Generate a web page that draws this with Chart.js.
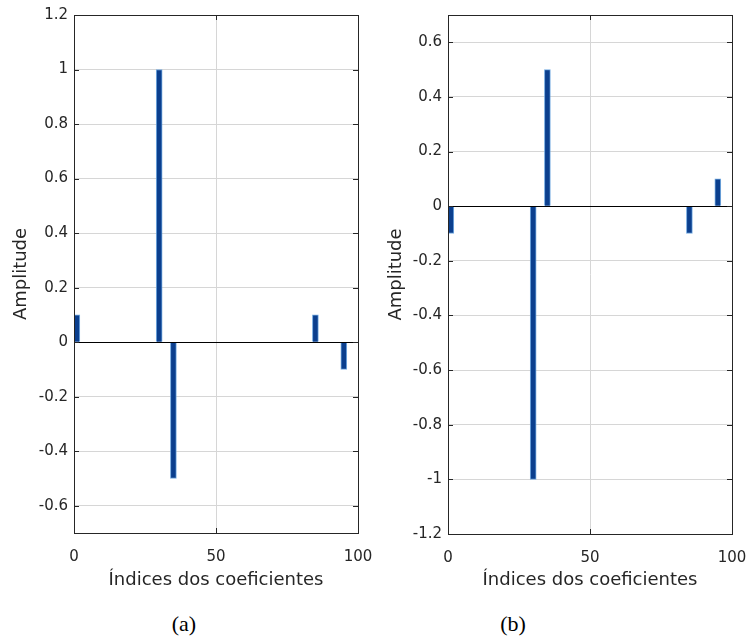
<!DOCTYPE html>
<html>
<head>
<meta charset="utf-8">
<script src="https://cdn.jsdelivr.net/npm/chart.js@4"></script>
<style>
  html, body { margin: 0; padding: 0; background: #fff; }
  body { width: 747px; height: 637px; position: relative; overflow: hidden; }
  canvas { position: absolute; top: 0; }
  .cap { position: absolute; top: 613px; width: 80px; text-align: center;
         font-family: "Liberation Serif", "Times New Roman", serif; font-size: 22px; line-height: 22px; color: #000; }
</style>
</head>
<body>
<canvas id="ca" width="375" height="600" style="left:0px"></canvas>
<canvas id="cb" width="372" height="600" style="left:375px"></canvas>
<div class="cap" style="left:144px">(a)</div>
<div class="cap" style="left:473px">(b)</div>
<script>
// ---- data ----
const indicesA = [1, 30, 35, 85, 95];
const valuesA  = [0.1, 1, -0.5, 0.1, -0.1];
const indicesB = [1, 30, 35, 85, 95];
const valuesB  = [-0.1, -1, 0.5, -0.1, 0.1];

const xTicks      = [0, 50, 100];
const xTickLabels = ['0', '50', '100'];

const yTicksA      = [-0.6, -0.4, -0.2, 0, 0.2, 0.4, 0.6, 0.8, 1, 1.2];
const yTickLabelsA = ['-0.6', '-0.4', '-0.2', '0', '0.2', '0.4', '0.6', '0.8', '1', '1.2'];
const yTicksB      = [-1.2, -1, -0.8, -0.6, -0.4, -0.2, 0, 0.2, 0.4, 0.6];
const yTickLabelsB = ['-1.2', '-1', '-0.8', '-0.6', '-0.4', '-0.2', '0', '0.2', '0.4', '0.6'];

const xTitle = 'Índices dos coeficientes';
const yTitle = 'Amplitude';

// ---- styling ----
const FONT = '"DejaVu Sans", "Liberation Sans", Arial, sans-serif';
const TEXT = '#262626';
const GRID = '#d6d6d6';

const framePlugin = {
  id: 'frame',
  afterDatasetsDraw(chart) {
    const { ctx, chartArea: a, scales: { x, y } } = chart;
    ctx.save();
    const y0 = Math.round(y.getPixelForValue(0)) + 0.5;
    ctx.strokeStyle = '#000';
    ctx.lineWidth = 1;
    ctx.beginPath();
    ctx.moveTo(a.left, y0); ctx.lineTo(a.right, y0);
    ctx.stroke();
    ctx.strokeStyle = TEXT;
    const L = 5;
    y.ticks.forEach(t => {
      const py = Math.round(y.getPixelForValue(t.value)) + 0.5;
      ctx.beginPath();
      ctx.moveTo(a.left, py); ctx.lineTo(a.left + L, py);
      ctx.moveTo(a.right, py); ctx.lineTo(a.right - L, py);
      ctx.stroke();
    });
    x.ticks.forEach(t => {
      const px = Math.round(x.getPixelForValue(t.value)) + 0.5;
      ctx.beginPath();
      ctx.moveTo(px, a.top); ctx.lineTo(px, a.top + L);
      ctx.moveTo(px, a.bottom); ctx.lineTo(px, a.bottom - L);
      ctx.stroke();
    });
    ctx.strokeRect(Math.round(a.left) + 0.5, Math.round(a.top) + 0.5,
                   Math.round(a.right) - Math.round(a.left), Math.round(a.bottom) - Math.round(a.top));
    ctx.restore();
  }
};

function makeChart(id, idx, vals, yMin, yMax, yTicks, yLabels, rightPad, yWidth, xHeight) {
  return new Chart(document.getElementById(id), {
    type: 'bar',
    data: {
      datasets: [{
        data: idx.map((v, i) => ({ x: v, y: vals[i] })),
        backgroundColor: '#0b3f8e',
        borderColor: 'rgba(90,155,220,0.85)',
        borderWidth: 1,
        borderSkipped: 'start',
        barThickness: 6
      }]
    },
    options: {
      responsive: false,
      animation: false,
      events: [],
      layout: { padding: { top: 15, right: rightPad, left: 0, bottom: 0 } },
      plugins: { legend: { display: false }, tooltip: { enabled: false } },
      scales: {
        x: {
          type: 'linear',
          min: 0, max: 100,
          offset: false,
          afterBuildTicks: s => { s.ticks = xTicks.map(v => ({ value: v })); },
          afterFit: s => { s.height = xHeight; s.paddingLeft = 0; s.paddingRight = 0; },
          grid: { color: GRID, drawTicks: false, offset: false },
          border: { display: false },
          ticks: {
            padding: 15,
            color: TEXT,
            font: { family: FONT, size: 15 },
            maxRotation: 0,
            callback: (v, i) => xTickLabels[i]
          },
          title: {
            display: true, text: xTitle, color: TEXT,
            font: { family: FONT, size: 18 },
            padding: { top: 0, bottom: 9 }
          }
        },
        y: {
          min: yMin, max: yMax,
          afterBuildTicks: s => { s.ticks = yTicks.map(v => ({ value: v })); },
          afterFit: s => { s.width = yWidth; s.paddingTop = 0; s.paddingBottom = 0; },
          grid: { color: GRID, drawTicks: false },
          border: { display: false },
          ticks: {
            padding: 6,
            color: TEXT,
            font: { family: FONT, size: 15 },
            callback: (v, i) => yLabels[i]
          },
          title: {
            display: true, text: yTitle, color: TEXT,
            font: { family: FONT, size: 18 },
            padding: { top: 11, bottom: 0 }
          }
        }
      }
    },
    plugins: [framePlugin]
  });
}

makeChart('ca', indicesA, valuesA, -0.7, 1.2, yTicksA, yTickLabelsA, 17, 74, 67);
makeChart('cb', indicesB, valuesB, -1.2, 0.7, yTicksB, yTickLabelsB, 15, 73, 66);
</script>
</body>
</html>
